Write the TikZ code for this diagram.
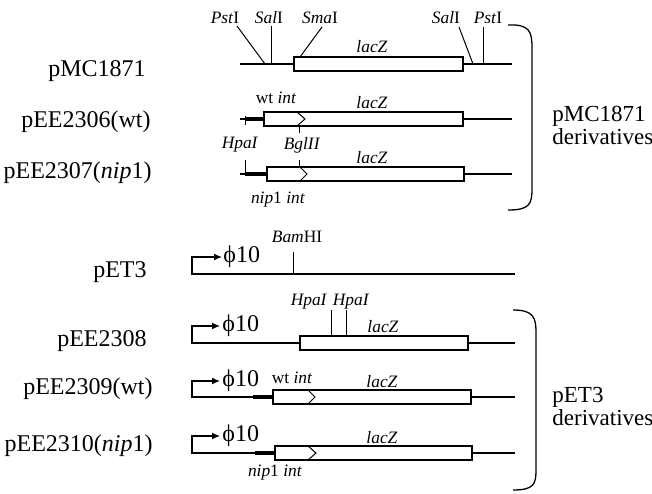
\documentclass[tikz,border=0pt]{standalone}
\usepackage{fontspec}
\setmainfont{Liberation Serif}
\usetikzlibrary{arrows.meta, positioning, calc}

\begin{document}
\begin{tikzpicture}[x=0.5pt, y=-0.5pt,
    plasmid/.style={anchor=east, inner sep=0, font=\fontsize{12}{14}\selectfont},
    site/.style={inner sep=0, font=\fontsize{8.7}{10}\selectfont},
    group/.style={anchor=west, inner sep=0, align=left, font=\fontsize{11.5}{11.5}\selectfont},
    dna/.style={line width=0.65pt},
    gene/.style={line width=1.1pt, fill=white},
    fusion/.style={line width=2pt},
    tick/.style={line width=0.5pt},
    prom/.style={line width=0.65pt, -{Latex[length=4pt,width=3.5pt]}},
]
    \useasboundingbox (0,0) rectangle (652,493);
    % Plasmid names
    \node[plasmid] (pmc)  at (146,71)  {pMC1871};
    \node[plasmid] (p06)  at (151,122) {pEE2306(wt)};
    \node[plasmid] (p07)  at (152,173) {pEE2307(\textit{nip}1)};
    \node[plasmid] (pet)  at (147,272) {pET3};
    \node[plasmid] (p08)  at (147,341) {pEE2308};
    \node[plasmid] (p09)  at (153,389) {pEE2309(wt)};
    \node[plasmid] (p10)  at (153,446) {pEE2310(\textit{nip}1)};

    % pMC1871
    \draw[dna] (240,64) -- (512,64);
    \draw[gene] (294,57) rectangle (463,71);
    \node[site] (pstA) at (225,18) {\textit{Pst}I};
    \node[site] (salA) at (269,18) {\textit{Sal}I};
    \node[site] (sma)  at (320,18) {\textit{Sma}I};
    \node[site] (salB) at (446,18) {\textit{Sal}I};
    \node[site] (pstB) at (488,18) {\textit{Pst}I};
    \coordinate (cpstA) at (265,64);
    \coordinate (csalA) at (271,64);
    \coordinate (csma)  at (300,57);
    \coordinate (csalB) at (473,64);
    \coordinate (cpstB) at (483,64);
    \draw[tick] (237,26) -- (cpstA);
    \draw[tick] (271,26) -- (csalA);
    \draw[tick] (322,27) -- (csma);
    \draw[tick] (459,27) -- (csalB);
    \draw[tick] (483,27) -- (cpstB);
    \node[site] (lacA) at (372,47) {\textit{lacZ}};

    % pEE2306(wt)
    \draw[dna] (240,119) -- (512,119);
    \draw[fusion] (245,119) -- (265,119);
    \draw[tick] (245,116) -- (245,125);
    \draw[gene] (264,112) rectangle (463,126);
    \draw[tick] (297,112) -- (305,119) -- (297,126);
    \draw[tick] (299,126) -- (299,133);
    \node[site] (wtA)  at (276,98)  {wt \textit{int}};
    \node[site] (lacB) at (372,103) {\textit{lacZ}};
    \node[site] (hpa)  at (240,145) {\textit{HpaI}};
    \node[site] (bgl)  at (302,145) {\textit{BglII}};

    % pEE2307(nip1)
    \draw[dna] (240,174) -- (512,174);
    \draw[tick] (245,160) -- (245,174);
    \draw[fusion] (245,174) -- (268,174);
    \draw[gene] (267,167) rectangle (464,181);
    \draw[tick] (300,167) -- (307,174) -- (300,181);
    \draw[tick] (299,160) -- (299,167);
    \node[site] (lacC) at (372,158) {\textit{lacZ}};
    \node[site] (nipA) at (278,200) {\textit{nip}1 \textit{int}};

    % pET3
    \draw[dna] (191,274) -- (515,274);
    \draw[prom] (192,274) -- (192,257) -- (222,257);
    \node[plasmid, anchor=west] (phiA) at (223,257) {ϕ10};
    \draw[tick] (293,252) -- (293,274);
    \node[site] (bam) at (297,237) {\textit{Bam}HI};

    % pEE2308
    \draw[dna] (191,343) -- (515,343);
    \draw[prom] (192,343) -- (192,326) -- (220,326);
    \node[plasmid, anchor=west] (phiB) at (222,326) {ϕ10};
    \draw[gene] (300,336) rectangle (468,350);
    \node[site] (hpaA) at (309,302) {\textit{HpaI}};
    \node[site] (hpaB) at (351,302) {\textit{HpaI}};
    \draw[tick] (331,310) -- (331,336);
    \draw[tick] (346,310) -- (346,336);
    \node[site] (lacD) at (383,327) {\textit{lacZ}};

    % pEE2309(wt)
    \draw[dna] (191,397) -- (515,397);
    \draw[prom] (192,397) -- (192,381) -- (220,381);
    \node[plasmid, anchor=west] (phiC) at (222,381) {ϕ10};
    \draw[fusion] (253,397) -- (274,397);
    \draw[gene] (273,390) rectangle (471,404);
    \draw[tick] (308,390) -- (315,397) -- (308,404);
    \node[site] (wtB)  at (292,378) {wt \textit{int}};
    \node[site] (lacE) at (382,382) {\textit{lacZ}};

    % pEE2310(nip1)
    \draw[dna] (191,453) -- (515,453);
    \draw[prom] (192,453) -- (192,436) -- (220,436);
    \node[plasmid, anchor=west] (phiD) at (222,436) {ϕ10};
    \draw[fusion] (255,453) -- (276,453);
    \draw[gene] (275,446) rectangle (472,460);
    \draw[tick] (308,446) -- (316,453) -- (308,460);
    \node[site] (lacF) at (382,438) {\textit{lacZ}};
    \node[site] (nipB) at (275,473) {\textit{nip}1 \textit{int}};

    % Braces
    \draw[dna] (508,25) .. controls (530,24) and (532,32) .. (532,48) -- (532,188)
        .. controls (532,204) and (530,210) .. (508,210);
    \draw[dna] (513,310) .. controls (534,310) and (536,318) .. (536,333) -- (536,470)
        .. controls (536,484) and (534,490) .. (513,490);
    \node[group] (grpA) at (552,125) {pMC1871\\derivatives};
    \node[group] (grpB) at (552,406) {pET3\\derivatives};
\end{tikzpicture}
\end{document}
